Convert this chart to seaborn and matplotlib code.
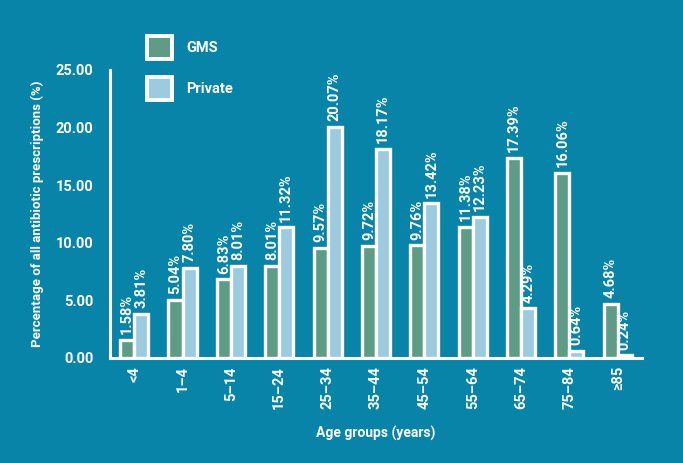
import pandas as pd
import matplotlib.pyplot as plt
import seaborn as sns

# Colours
BG = "#0784a7"
PALETTE = ["#5e9c86", "#9ccadf"]

age_groups = ["<4", "1–4", "5–14", "15–24", "25–34", "35–44", "45–54",
              "55–64", "65–74", "75–84", "≥85"]
gms = [1.58, 5.04, 6.83, 8.01, 9.57, 9.72, 9.76, 11.38, 17.39, 16.06, 4.68]
private = [3.81, 7.80, 8.01, 11.32, 20.07, 18.17, 13.42, 12.23, 4.29, 0.64, 0.24]

df = pd.DataFrame({
    "age": age_groups * 2,
    "pct": gms + private,
    "scheme": ["GMS"] * len(gms) + ["Private"] * len(private),
})

sns.set_style("white")
plt.rcParams["font.family"] = ["Roboto", "DejaVu Sans"]

fig = plt.figure(figsize=(6.83, 4.63), dpi=100, facecolor=BG)
ax = fig.add_axes([0.161, 0.227, 0.779, 0.622])
ax.set_facecolor(BG)

sns.barplot(data=df, x="age", y="pct", hue="scheme", palette=PALETTE,
            saturation=1, width=0.58, edgecolor="white", linewidth=2.4,
            ax=ax, errorbar=None, legend=False)

# value labels, rotated like the original
for cont in ax.containers:
    ax.bar_label(cont, labels=[f"{v:.2f}%" for v in cont.datavalues],
                 rotation=90, padding=4, color="white", fontsize=10.5,
                 fontweight="bold")

ax.set_ylim(0, 25)
ax.set_xlim(-0.5, 10.5)
ax.set_yticks([0, 5, 10, 15, 20, 25])
ax.set_yticklabels([f"{t:.2f}" for t in [0, 5, 10, 15, 20, 25]])
ax.tick_params(axis="both", length=0, colors="white", labelsize=10.5)
for lbl in ax.get_yticklabels():
    lbl.set_fontweight("bold")
for lbl in ax.get_xticklabels():
    lbl.set_fontweight("bold")
    lbl.set_rotation(90)
ax.tick_params(axis="y", pad=12)
ax.tick_params(axis="x", pad=6)

for side in ["top", "right"]:
    ax.spines[side].set_visible(False)
for side in ["left", "bottom"]:
    ax.spines[side].set_color("white")
    ax.spines[side].set_linewidth(2.2)

ax.set_xlabel("Age groups (years)", color="white", fontsize=10,
              fontweight="bold", labelpad=12)
ax.set_ylabel("Percentage of all antibiotic prescriptions (%)", color="white",
              fontsize=9.5, fontweight="bold", labelpad=8)

# legend built by hand so the swatches get the white frame
handles = [plt.Rectangle((0, 0), 1, 1, facecolor=c, edgecolor="white",
                         linewidth=2.8) for c in PALETTE]
leg = fig.legend(handles, ["GMS", "Private"], loc="upper left",
                 bbox_to_anchor=(0.196, 0.95), frameon=False,
                 handlelength=1.7, handleheight=2.0, labelspacing=1.25,
                 handletextpad=1.0, fontsize=10.5)
for txt in leg.get_texts():
    txt.set_color("white")
    txt.set_fontweight("bold")

fig.savefig("out.png", dpi=100, facecolor=BG)
